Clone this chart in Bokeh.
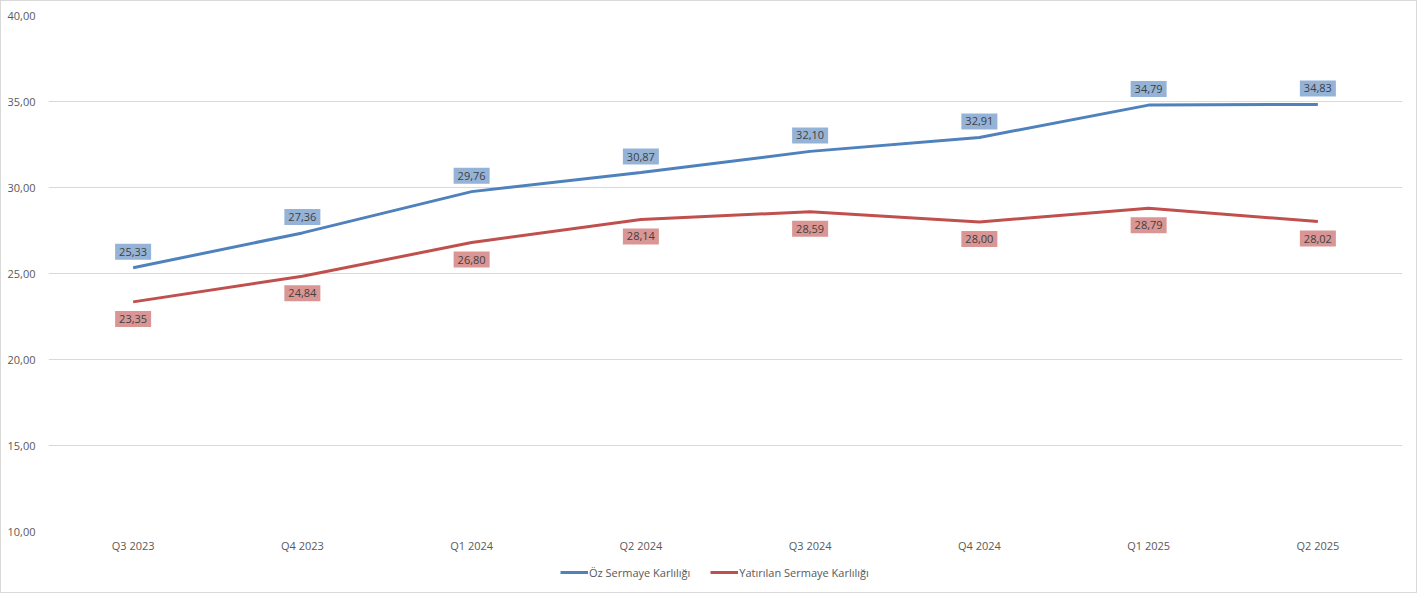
from bokeh.plotting import figure
from bokeh.layouts import column
from bokeh.models import (ColumnDataSource, FactorRange, Range1d, FixedTicker,
                          CustomJSTickFormatter, Legend, LegendItem)
from bokeh.core.properties import value
from bokeh.embed import file_html
from bokeh.resources import INLINE

# ---- data ----
quarters = ["Q3 2023", "Q4 2023", "Q1 2024", "Q2 2024",
            "Q3 2024", "Q4 2024", "Q1 2025", "Q2 2025"]
oz_sermaye = [25.33, 27.36, 29.76, 30.87, 32.10, 32.91, 34.79, 34.83]
yatirilan_sermaye = [23.35, 24.84, 26.80, 28.14, 28.59, 28.00, 28.79, 28.02]
y_ticks = [10, 15, 20, 25, 30, 35, 40]
series_names = ["Öz Sermaye Karlılığı", "Yatırılan Sermaye Karlılığı"]

FONT = "Open Sans"
BLUE = "#4F81BD"
RED = "#C0504D"

def fmt(v):
    return f"{v:.2f}".replace(".", ",")

src = ColumnDataSource(dict(
    x=quarters,
    oz=oz_sermaye,
    yat=yatirilan_sermaye,
    oz_lbl=[fmt(v) for v in oz_sermaye],
    yat_lbl=[fmt(v) for v in yatirilan_sermaye],
))

p = figure(width=1415, height=555, output_backend="svg", toolbar_location=None,
           x_range=FactorRange(*quarters, range_padding=0),
           y_range=Range1d(10, 40),
           min_border_left=47, min_border_right=14, min_border_top=14, min_border_bottom=25)

p.outline_line_color = None
p.background_fill_color = "white"
p.border_fill_color = "white"

# axes
p.yaxis.ticker = FixedTicker(ticks=y_ticks)
p.yaxis.formatter = CustomJSTickFormatter(code="return tick.toFixed(2).replace('.', ',');")
for ax in (p.xaxis[0], p.yaxis[0]):
    ax.axis_line_color = None
    ax.major_tick_line_color = None
    ax.minor_tick_line_color = None
    ax.major_tick_out = 0
    ax.major_tick_in = 0
    ax.major_label_text_font = FONT
    ax.major_label_text_font_size = "11px"
    ax.major_label_text_color = "#595959"
p.yaxis.major_label_standoff = 13
p.xaxis.major_label_standoff = 6

p.xgrid.grid_line_color = None
p.ygrid.grid_line_color = "#D9D9D9"
p.ygrid.grid_line_width = 1

p.line("x", "oz", source=src, line_color=BLUE, line_width=3)
p.line("x", "yat", source=src, line_color=RED, line_width=3)

p.text(x="x", y="oz", text="oz_lbl", source=src, text_align="center",
       text_baseline="middle", y_offset=-16, text_font=value(FONT),
       text_font_size="11px", text_color="#404040",
       background_fill_color="#95B3D7", padding=4)
p.text(x="x", y="yat", text="yat_lbl", source=src, text_align="center",
       text_baseline="middle", y_offset=17, text_font=value(FONT),
       text_font_size="11px", text_color="#404040",
       background_fill_color="#D99694", padding=4)

# ---- legend strip below the chart (same series, drawn out of view) ----
lg = figure(width=1415, height=36, output_backend="svg", toolbar_location=None,
            x_range=p.x_range, y_range=Range1d(0, 1),
            x_axis_type=None, y_axis_type=None,
            min_border_left=0, min_border_right=0, min_border_top=0, min_border_bottom=0)
lg.grid.visible = False
lg.outline_line_color = None
lg.background_fill_color = "white"
lg.border_fill_color = "white"
l1 = lg.line("x", "oz", source=src, line_color=BLUE, line_width=3)
l2 = lg.line("x", "yat", source=src, line_color=RED, line_width=3)

legend = Legend(items=[LegendItem(label=series_names[0], renderers=[l1]),
                       LegendItem(label=series_names[1], renderers=[l2])],
                orientation="horizontal", location=(512, 12))
legend.label_text_font = FONT
legend.label_text_font_size = "11px"
legend.label_text_color = "#595959"
legend.border_line_color = None
legend.background_fill_alpha = 0
legend.glyph_width = 28
legend.glyph_height = 16
legend.label_standoff = 1
legend.spacing = 20
legend.padding = 2
legend.margin = 0
lg.add_layout(legend)

layout = column(p, lg, spacing=0)
layout.styles = {"margin": "1px", "outline": "1px solid #D9D9D9"}

open("out.html", "w").write(file_html(layout, INLINE))
